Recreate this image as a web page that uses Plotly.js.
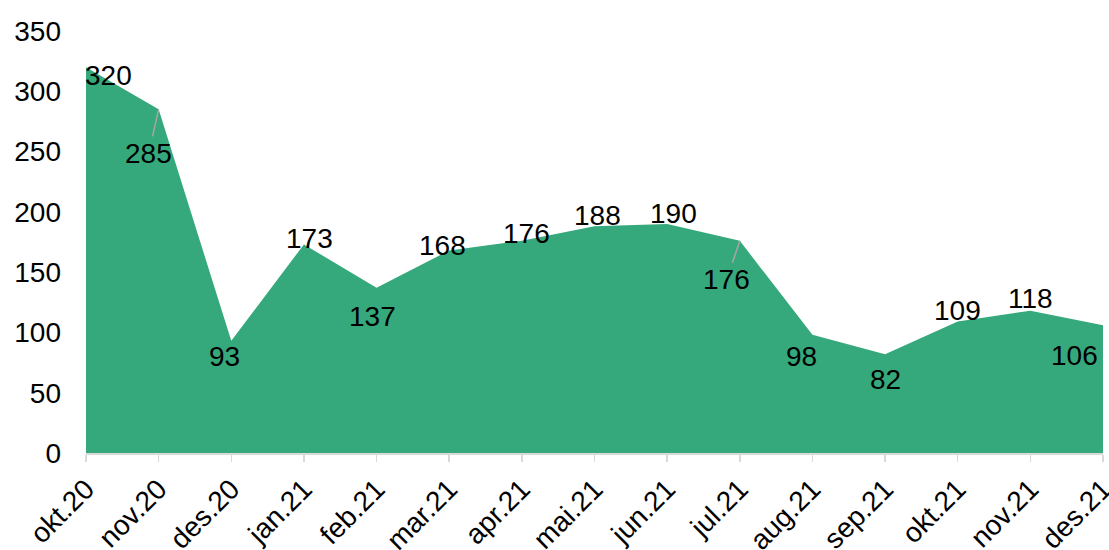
<!DOCTYPE html>
<html><head><meta charset="utf-8">
<script src="https://cdn.plot.ly/plotly-3.0.1.min.js"></script>
<style>html,body{margin:0;padding:0;background:#fff}#chart{width:1109px;height:550px}</style>
</head><body><div id="chart"></div>
<script>
const months = ["okt.20","nov.20","des.20","jan.21","feb.21","mar.21","apr.21","mai.21","jun.21","jul.21","aug.21","sep.21","okt.21","nov.21","des.21"];
const values = [320,285,93,173,137,168,176,188,190,176,98,82,109,118,106];
// label offsets (pixels) relative to each point; leader = draw connector line
const labelDx = [22,-10,-7,6,-4,-7,5,3,6,-13,-11,0,0,0,-29];
const labelDy = [8,44,16,-6,29,-5,-7,-11,-10,39,22,25,-11,-12,30];
const leader = [false,true,false,false,false,false,false,false,false,true,false,false,false,false,false];

const font = {family:"Liberation Sans, Arial, sans-serif", size:28, color:"#000"};

const annotations = months.map((m,i)=>{
  if (leader[i]) {
    return {x:m, y:values[i], xref:'x', yref:'y', text:String(values[i]), showarrow:true,
      arrowhead:0, arrowwidth:1.5, arrowcolor:'#a6a6a6', ax:labelDx[i], ay:labelDy[i], standoff:0,
      font:font};
  }
  return {x:m, y:values[i], xref:'x', yref:'y', text:String(values[i]), showarrow:false,
    xshift:labelDx[i], yshift:-labelDy[i], font:font};
});

Plotly.newPlot('chart', [{
  x: months, y: values, type:'scatter', mode:'lines', fill:'tozeroy',
  fillcolor:'#35a97b', line:{width:0, color:'#35a97b'}, hoverinfo:'skip'
}], {
  width:1109, height:550,
  margin:{l:86, r:6, t:31, b:97},
  paper_bgcolor:'#fff', plot_bgcolor:'#fff',
  showlegend:false,
  font:font,
  xaxis:{type:'category', range:[0,14], showgrid:false, zeroline:false,
    showline:true, linecolor:'#d9d9d9', linewidth:1.5,
    ticks:'outside', ticklen:7, tickwidth:1.5, tickcolor:'#d9d9d9',
    tickangle:-45, tickfont:font},
  yaxis:{range:[0,350], dtick:50, showgrid:false, zeroline:false, showline:false,
    ticks:'', tickfont:font, ticklabelstandoff:24},
  annotations: annotations
}, {staticPlot:true});
</script></body></html>
